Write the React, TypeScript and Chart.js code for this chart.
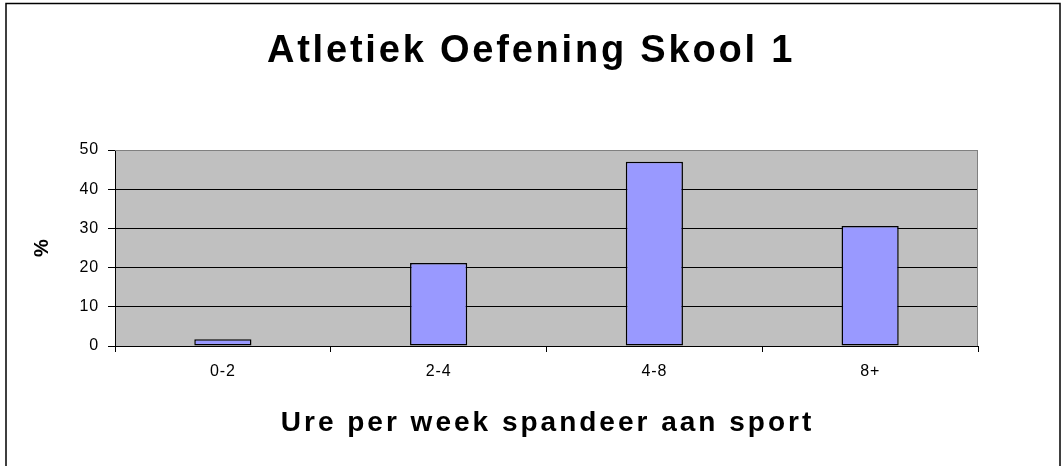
import React, { useEffect, useRef } from "react";
import { Chart, registerables } from "chart.js";

Chart.register(...registerables);

const categories = ["0-2", "2-4", "4-8", "8+"];
const percentValues = [1.7, 21.2, 47.0, 30.6];
const yTicks = [0, 10, 20, 30, 40, 50];
const chartTitle = "Atletiek Oefening Skool 1";
const xAxisTitle = "Ure per week spandeer aan sport";
const yAxisTitle = "%";

const FONT = "'Liberation Sans', Arial, Helvetica, sans-serif";

const decorPlugin = {
  id: "decor",
  beforeDraw(chart: any) {
    const { ctx, chartArea: a } = chart;
    ctx.save();
    ctx.fillStyle = "#ffffff";
    ctx.fillRect(0, 0, chart.width, chart.height);
    ctx.fillStyle = "#C0C0C0";
    ctx.fillRect(a.left, a.top, a.right - a.left, a.bottom - a.top);
    ctx.restore();
    (ctx as any).letterSpacing = "0.8px";
  },
  afterDraw(chart: any) {
    const { ctx, chartArea: a } = chart;
    ctx.save();
    // plot area gray border (top/right)
    ctx.strokeStyle = "#808080";
    ctx.lineWidth = 1;
    ctx.beginPath();
    ctx.moveTo(a.left, a.top + 0.5);
    ctx.lineTo(a.right - 0.5, a.top + 0.5);
    ctx.lineTo(a.right - 0.5, a.bottom);
    ctx.stroke();
    // outer frame
    ctx.strokeStyle = "#000000";
    ctx.lineWidth = 1.5;
    ctx.strokeRect(6, 3.5, 1054, 480);

    ctx.fillStyle = "#000000";
    ctx.textAlign = "center";
    ctx.textBaseline = "alphabetic";
    // title
    (ctx as any).letterSpacing = "2.8px";
    ctx.font = `bold 38px ${FONT}`;
    ctx.fillText(chartTitle, chart.width / 2 - 1, 62);
    // x axis title
    (ctx as any).letterSpacing = "3px";
    ctx.font = `bold 28px ${FONT}`;
    ctx.fillText(xAxisTitle, (a.left + a.right) / 2 + 1, 431);
    // y axis title
    (ctx as any).letterSpacing = "0px";
    ctx.translate(48, (a.top + a.bottom) / 2);
    ctx.rotate(-Math.PI / 2);
    ctx.font = `bold 20px ${FONT}`;
    ctx.fillText(yAxisTitle, 0, 0);
    ctx.restore();
  },
};

export default function App() {
  const ref = useRef<HTMLCanvasElement>(null);
  useEffect(() => {
    if (!ref.current) return;
    const chart = new Chart(ref.current, {
      type: "bar",
      data: {
        labels: categories,
        datasets: [
          {
            data: percentValues,
            backgroundColor: "#9999FF",
            borderColor: "#000000",
            borderWidth: 1.5,
            borderSkipped: false,
            barPercentage: 0.265,
            categoryPercentage: 1,
          },
        ],
      },
      options: {
        animation: false,
        responsive: false,
        devicePixelRatio: 1,
        layout: { padding: { left: 75, right: 86, top: 150, bottom: 80 } },
        plugins: {
          legend: { display: false },
          title: { display: false },
          tooltip: { enabled: false },
        },
        scales: {
          x: {
            afterFit: (s: any) => {
              s.height = 40;
            },
            grid: {
              offset: true,
              drawOnChartArea: false,
              drawTicks: true,
              tickLength: 6,
              color: "#000000",
            },
            border: { display: true, color: "#000000" },
            ticks: {
              color: "#000000",
              padding: 10,
              font: { family: FONT, size: 16 },
            },
          },
          y: {
            min: 0,
            max: 50,
            afterFit: (s: any) => {
              s.width = 40;
            },
            afterBuildTicks: (s: any) => {
              s.ticks = yTicks.map((v) => ({ value: v }));
            },
            grid: {
              color: (c: any) => (c.tick && c.tick.value === 50 ? "#808080" : "#000000"),
              tickColor: "#000000",
              tickLength: 7,
            },
            border: { display: true, color: "#000000" },
            ticks: {
              color: "#000000",
              padding: 9,
              font: { family: FONT, size: 16 },
            },
          },
        },
      },
      plugins: [decorPlugin],
    });
    return () => chart.destroy();
  }, []);
  return (
    <div style={{ position: "fixed", left: 0, top: 0, width: 1064, height: 466 }}>
      <canvas ref={ref} width={1064} height={466} style={{ display: "block" }} />
    </div>
  );
}
